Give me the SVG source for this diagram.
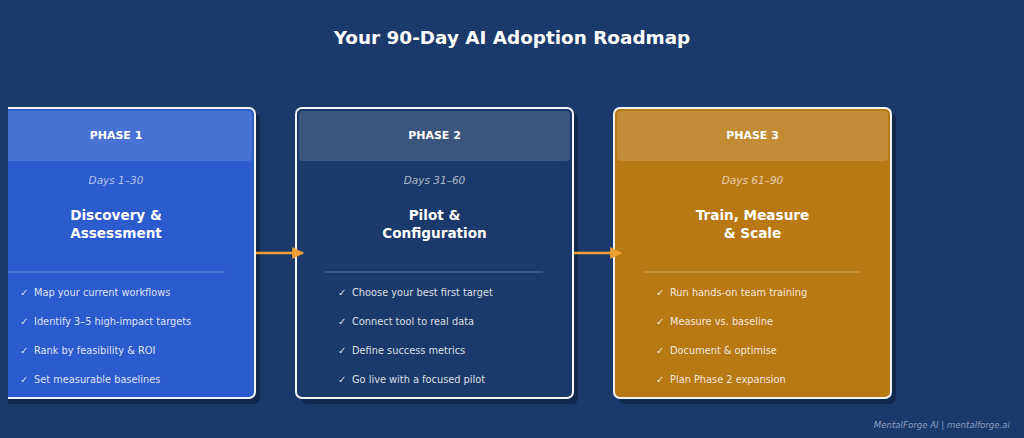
<svg xmlns="http://www.w3.org/2000/svg" width="1024" height="438" viewBox="0 0 1024 438">
<defs>
<style>
text{font-family:"DejaVu Sans","Liberation Sans",sans-serif;}
.title{font-size:18.4px;font-weight:bold;fill:#ffffff;text-anchor:middle}
.phase{font-size:11px;font-weight:bold;fill:#ffffff;text-anchor:middle}
.days{font-size:10.5px;font-style:italic;fill:#ffffff;fill-opacity:0.65;text-anchor:middle}
.head{font-size:13.6px;font-weight:bold;fill:#ffffff;text-anchor:middle}
.item{font-size:9.8px;fill:#ffffff;fill-opacity:0.85}
.card{stroke:#f2f4f8;stroke-width:2}
.shadow{fill:#0f2448;opacity:0.8}
.band{fill:#ffffff;fill-opacity:0.14}
.div{stroke:#ffffff;stroke-opacity:0.3;stroke-width:1}
.conn{stroke:#f0a030;stroke-width:2.5;fill:none}
.foot{font-size:8.6px;font-style:italic;fill:#8d9dc0;text-anchor:end}
</style>
<marker id="ah" viewBox="0 0 10 10" refX="9" refY="5" markerWidth="12" markerHeight="12" orient="auto" markerUnits="userSpaceOnUse">
<path d="M0,0 L10,5 L0,10 z" fill="#f0a030"/>
</marker>
</defs>
<rect width="1024" height="438" fill="#1b3a6b"/>
<text class="title" x="512" y="43.5">Your 90-Day AI Adoption Roadmap</text>

<g id="phase1">
<rect class="shadow" x="-17" y="113" width="277" height="291" rx="6"/>
<rect class="card" x="-22" y="108" width="277" height="290" rx="6" fill="#2b5bcc"/>
<rect class="band" x="-19" y="111" width="271" height="50" rx="4"/>
<text class="phase" x="116" y="139">PHASE 1</text>
<text class="days" x="116" y="184">Days 1–30</text>
<text class="head" x="116" y="220">Discovery &amp;</text>
<text class="head" x="116" y="238">Assessment</text>
<line class="div" x1="8" y1="272" x2="225" y2="272"/>
<text class="item" x="20" y="296">✓</text><text class="item" x="34" y="296">Map your current workflows</text>
<text class="item" x="20" y="325">✓</text><text class="item" x="34" y="325">Identify 3–5 high-impact targets</text>
<text class="item" x="20" y="354">✓</text><text class="item" x="34" y="354">Rank by feasibility &amp; ROI</text>
<text class="item" x="20" y="383">✓</text><text class="item" x="34" y="383">Set measurable baselines</text>
</g>
<rect x="0" y="100" width="8" height="310" fill="#1b3a6b"/>

<g id="phase2">
<rect class="shadow" x="301" y="113" width="277" height="291" rx="6"/>
<rect class="card" x="296" y="108" width="277" height="290" rx="6" fill="#1b3a6b"/>
<rect class="band" x="299" y="111" width="271" height="50" rx="4"/>
<text class="phase" x="434.5" y="139">PHASE 2</text>
<text class="days" x="434.5" y="184">Days 31–60</text>
<text class="head" x="434.5" y="220">Pilot &amp;</text>
<text class="head" x="434.5" y="238">Configuration</text>
<line class="div" x1="325" y1="272" x2="543" y2="272"/>
<text class="item" x="338" y="296">✓</text><text class="item" x="352" y="296">Choose your best first target</text>
<text class="item" x="338" y="325">✓</text><text class="item" x="352" y="325">Connect tool to real data</text>
<text class="item" x="338" y="354">✓</text><text class="item" x="352" y="354">Define success metrics</text>
<text class="item" x="338" y="383">✓</text><text class="item" x="352" y="383">Go live with a focused pilot</text>
</g>

<g id="phase3">
<rect class="shadow" x="619" y="113" width="277" height="291" rx="6"/>
<rect class="card" x="614" y="108" width="277" height="290" rx="6" fill="#b87914"/>
<rect class="band" x="617" y="111" width="271" height="50" rx="4"/>
<text class="phase" x="752.5" y="139">PHASE 3</text>
<text class="days" x="752.5" y="184">Days 61–90</text>
<text class="head" x="752.5" y="220">Train, Measure</text>
<text class="head" x="752.5" y="238">&amp; Scale</text>
<line class="div" x1="643" y1="272" x2="861" y2="272"/>
<text class="item" x="656" y="296">✓</text><text class="item" x="670" y="296">Run hands-on team training</text>
<text class="item" x="656" y="325">✓</text><text class="item" x="670" y="325">Measure vs. baseline</text>
<text class="item" x="656" y="354">✓</text><text class="item" x="670" y="354">Document &amp; optimise</text>
<text class="item" x="656" y="383">✓</text><text class="item" x="670" y="383">Plan Phase 2 expansion</text>
</g>

<g id="connectors">
<line class="conn" x1="256" y1="253" x2="303" y2="253" marker-end="url(#ah)"/>
<line class="conn" x1="574" y1="253" x2="621" y2="253" marker-end="url(#ah)"/>
</g>

<text class="foot" x="1010" y="428">MentalForge AI | mentalforge.ai</text>
</svg>
